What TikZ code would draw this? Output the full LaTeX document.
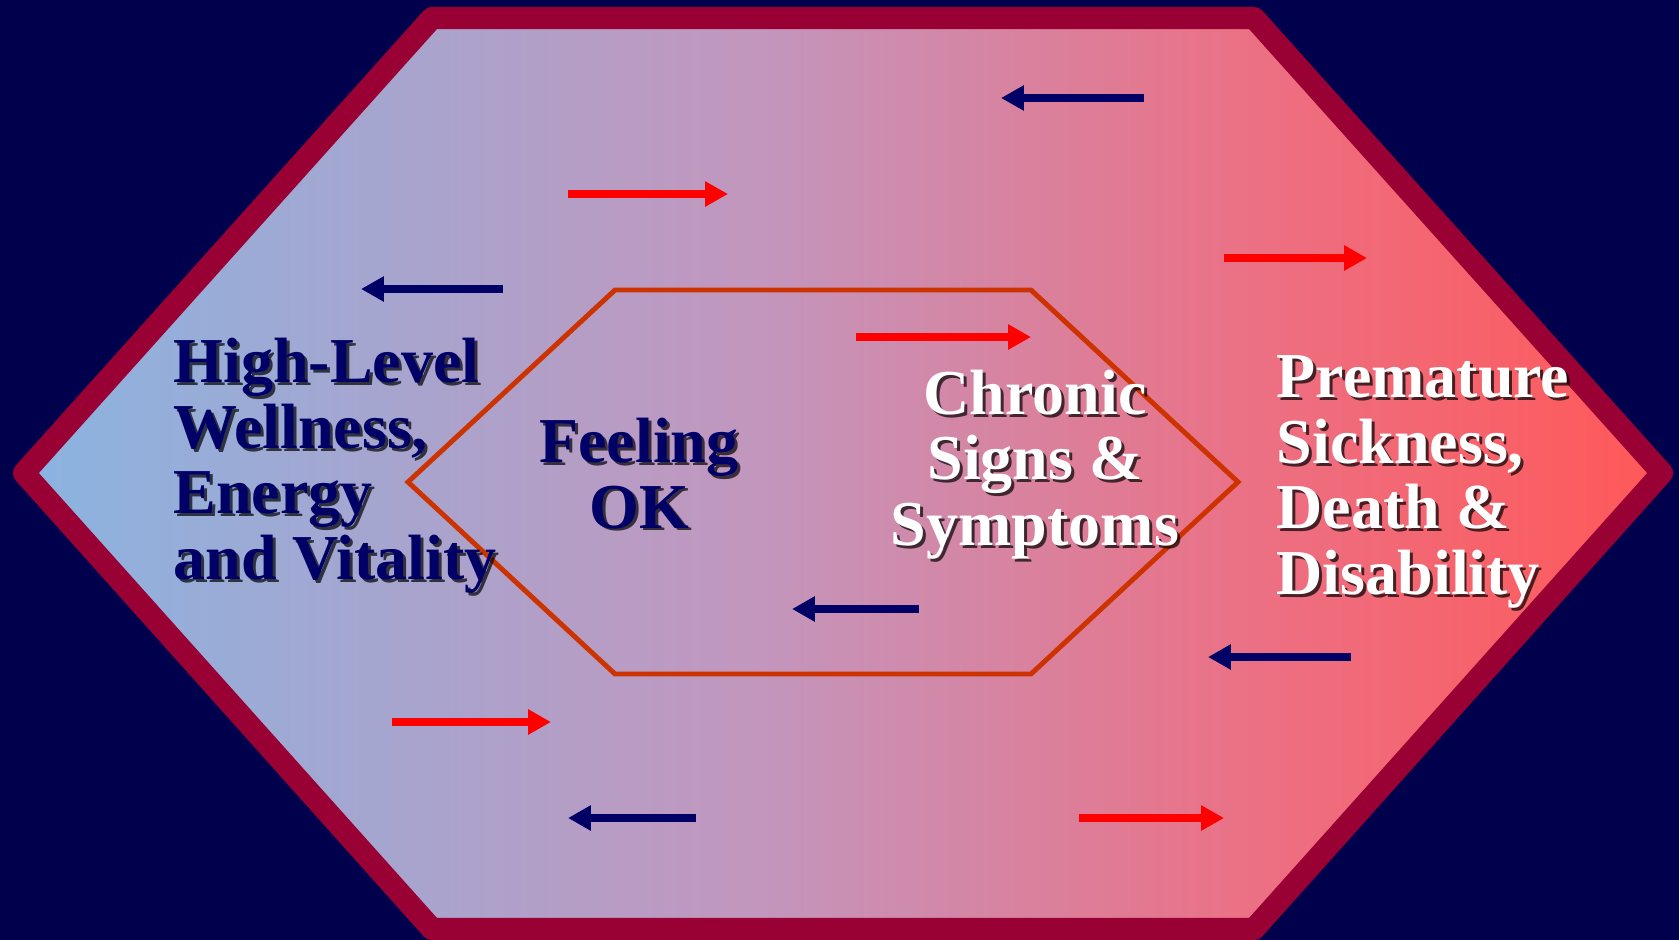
\documentclass[tikz,border=0pt]{standalone}
\usepackage{fontspec}
\setmainfont{Liberation Serif}
\usetikzlibrary{arrows.meta}

\definecolor{nighttop}{HTML}{00004C}
\definecolor{nightmid}{HTML}{000032}
\definecolor{rimred}{HTML}{990033}
\definecolor{coreline}{HTML}{CC3300}
\definecolor{wellnavy}{HTML}{000066}
\definecolor{wellblue}{HTML}{8AB4E0}
\definecolor{wellmauve}{HTML}{C396BD}
\definecolor{sickpink}{HTML}{EC7084}
\definecolor{sickred}{HTML}{FF5858}

% colour scale: the stops between 25bp and 75bp cover the path
\pgfdeclarehorizontalshading{wellness}{100bp}{color(0bp)=(wellblue); color(25bp)=(wellblue);
    color(47.5bp)=(wellmauve); color(62.5bp)=(sickpink); color(75bp)=(sickred); color(100bp)=(sickred)}

\tikzset{
    bigtext/.style={font=\fontsize{18.2}{18.6}\selectfont\bfseries, inner sep=0pt},
    navytext/.style={bigtext, text=wellnavy},
    whitetext/.style={bigtext, text=white},
    goodarrow/.style={->, line width=2.2pt, draw=red},
    badarrow/.style={->, line width=2.2pt, draw=wellnavy}
}

% text with a drop shadow: name, style, options, position, text
\newcommand{\dropshadow}[5]{%
    \node[#2, #3, text=black, opacity=0.7, xshift=0.85pt, yshift=-0.85pt] at #4 {#5};
    \node[#2, #3] (#1) at #4 {#5};}

\begin{document}
\begin{tikzpicture}[x=0.01cm, y=-0.01cm, >={Triangle[length=6.5pt, width=6.8pt]}]
    % 1. Background
    \useasboundingbox (0,0) rectangle (1679,939);
    \fill[top color=nighttop, middle color=nightmid, bottom color=nighttop] (0,0) rectangle (1679,939);

    % 2. Outer hexagon with the colour scale
    \shade[shading=wellness] (24,473) -- (432,18) -- (1254,18) -- (1662,473)
        -- (1254,929) -- (432,929) -- cycle;
    \draw[rimred, line width=6.3pt, line join=round] (24,473) -- (432,18) -- (1254,18)
        -- (1662,473) -- (1254,929) -- (432,929) -- cycle;

    % 3. Inner hexagon
    \draw[coreline, line width=1.4pt] (408,482) -- (615,290) -- (1031,290) -- (1238,482)
        -- (1031,674) -- (615,674) -- cycle;

    % 4. Arrows towards sickness (red) and towards wellness (blue)
    \foreach \xa/\xb/\y in {568/728/194, 1224/1367/258, 856/1031/337, 392/551/722, 1079/1224/818}
        \draw[goodarrow] (\xa,\y) -- (\xb,\y);
    \foreach \xa/\xb/\y in {1144/1001/98, 503/361/289, 919/792/609, 1351/1208/657, 696/568/818}
        \draw[badarrow] (\xa,\y) -- (\xb,\y);

    % 5. Labels (base = baseline of the last line)
    \dropshadow{wellness}{navytext}{anchor=base west, align=left}{(173,579)}{High-Level\\Wellness,\\Energy\\and Vitality}
    \dropshadow{feeling}{navytext}{anchor=base, align=center}{(639,528)}{Feeling\\OK}
    \dropshadow{chronic}{whitetext}{anchor=base, align=center}{(1035,545)}{Chronic\\Signs \&\\Symptoms}
    \dropshadow{premature}{whitetext}{anchor=base west, align=left}{(1276,594)}{Premature\\Sickness,\\Death \&\\Disability}
\end{tikzpicture}
\end{document}
